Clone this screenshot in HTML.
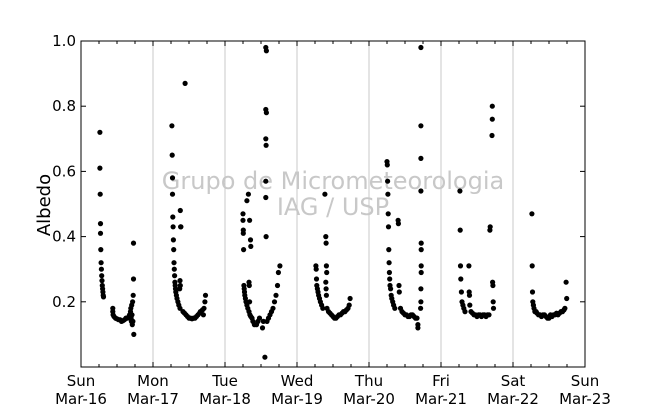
<!DOCTYPE html>
<html><head><meta charset="utf-8"><style>
html,body{margin:0;padding:0;background:#fff;}
svg{display:block;font-family:"DejaVu Sans","Liberation Sans",sans-serif;}
</style></head><body>
<svg id="chart" width="650" height="409" viewBox="0 0 650 409" xmlns="http://www.w3.org/2000/svg"></svg>
<script>
const dayLabels = ["Sun","Mon","Tue","Wed","Thu","Fri","Sat","Sun"];
const dateLabels = ["Mar-16","Mar-17","Mar-18","Mar-19","Mar-20","Mar-21","Mar-22","Mar-23"];
const yTicks = [0.2,0.4,0.6,0.8,1.0];
const yTickLabels = ["0.2","0.4","0.6","0.8","1.0"];

const day0Hours = [6.3,6.3,6.4,6.5,6.5,6.6,6.7,6.8,6.9,7.0,7.1,7.2,7.3,7.4,7.5,10.6,10.6,10.7,11,11.5,12,12.5,13,13.5,14,14.5,15,15.5,16,16.2,16.5,16.6,16.7,16.8,16.9,17.0,17.1,17.2,17.4,17.5,17.5,17.6,17.3];
const day0Albedo = [0.72,0.61,0.53,0.44,0.41,0.36,0.32,0.30,0.28,0.265,0.25,0.24,0.23,0.22,0.215,0.18,0.17,0.16,0.155,0.15,0.148,0.145,0.145,0.14,0.142,0.145,0.15,0.15,0.155,0.16,0.17,0.18,0.15,0.14,0.19,0.16,0.13,0.2,0.22,0.27,0.38,0.10,0.14];

const day1Hours = [6.3,6.4,6.5,6.5,6.6,6.7,6.8,6.9,7.0,7.1,7.2,7.3,7.4,7.5,7.6,7.8,8,8.3,8.6,9,9.1,9.2,9.3,9.0,9.1,8.9,10.7,10,10.5,11,11.5,12,12.5,13,13.5,14,14.5,15,15.5,16,16.5,17,17.3,17.5,16.8,15.8];
const day1Albedo = [0.74,0.65,0.58,0.53,0.46,0.43,0.39,0.36,0.32,0.30,0.28,0.26,0.25,0.24,0.23,0.22,0.21,0.20,0.19,0.18,0.48,0.43,0.43,0.265,0.25,0.24,0.87,0.17,0.165,0.16,0.155,0.15,0.15,0.148,0.15,0.15,0.155,0.16,0.165,0.17,0.175,0.18,0.20,0.22,0.16,0.17];

const day2Hours = [6.0,6.0,6.1,6.1,6.2,6.3,6.4,6.5,6.6,6.8,7,7.3,7.6,8,8.3,8.6,9,9.3,9.8,10.5,11,11.5,13.3,7.3,7.8,8.2,8.5,8.6,8.0,8.1,8.2,13.6,13.8,13.6,13.8,13.6,13.7,13.6,13.6,13.7,14,14.5,15,15.5,16,16.5,17,17.5,17.8,18.3,12.5,12.8];
const day2Albedo = [0.47,0.45,0.42,0.41,0.36,0.25,0.24,0.23,0.22,0.21,0.20,0.19,0.18,0.17,0.16,0.155,0.15,0.14,0.13,0.13,0.14,0.15,0.03,0.51,0.53,0.45,0.39,0.37,0.26,0.25,0.20,0.98,0.97,0.79,0.78,0.70,0.68,0.57,0.52,0.40,0.14,0.15,0.16,0.17,0.18,0.20,0.22,0.25,0.29,0.31,0.12,0.14];

const day3Hours = [6.3,6.4,6.5,6.6,6.8,7,7.2,7.5,7.8,8.2,8.6,9.3,9.6,9.7,9.8,9.9,9.6,9.7,9.8,10,10.5,11,11.5,12,12.5,13,13.5,14,14.5,15,15.5,16,16.5,17,17.4,17.7];
const day3Albedo = [0.31,0.30,0.27,0.25,0.24,0.23,0.22,0.21,0.20,0.19,0.18,0.53,0.40,0.38,0.31,0.29,0.26,0.24,0.22,0.18,0.17,0.165,0.16,0.155,0.15,0.15,0.155,0.16,0.16,0.165,0.17,0.17,0.175,0.18,0.19,0.21];

const day4Hours = [6.0,6.1,6.2,6.3,6.4,6.5,6.6,6.7,6.8,6.9,7,7.2,7.4,7.6,7.9,8.2,8.6,9.7,9.8,10,10.1,10.5,11,11.5,12,12.5,13,13.5,14,14.5,15,15.5,16,16.3,16.3,17.3,17.3,17.3,17.3,17.4,17.4,17.4,17.4,17.3,17.3,17.2];
const day4Albedo = [0.63,0.62,0.57,0.53,0.47,0.43,0.36,0.32,0.29,0.27,0.25,0.24,0.22,0.21,0.20,0.19,0.18,0.45,0.44,0.25,0.23,0.18,0.17,0.165,0.16,0.16,0.155,0.155,0.16,0.16,0.155,0.15,0.15,0.12,0.13,0.98,0.74,0.64,0.54,0.38,0.36,0.31,0.29,0.24,0.20,0.18];

const day5Hours = [6.3,6.4,6.5,6.6,6.8,7,7.3,7.6,8,9.3,9.4,9.5,9.6,10,10.5,11,11.5,12,12.5,13,13.5,14,14.5,15,15.5,16,16.3,16.4,17,17.1,17.1,17.2,17.3,17.4,17.5];
const day5Albedo = [0.54,0.42,0.31,0.27,0.23,0.20,0.19,0.18,0.17,0.31,0.23,0.22,0.19,0.17,0.165,0.16,0.16,0.155,0.16,0.16,0.155,0.16,0.16,0.155,0.16,0.16,0.42,0.43,0.71,0.76,0.80,0.26,0.25,0.20,0.18];

const day6Hours = [6.3,6.4,6.5,6.6,6.8,7,7.3,7.7,8,8.5,9,9.5,10,10.5,11,11.5,12,12.5,13,13.5,14,14.5,15,15.5,16,16.5,17,17.3,17.7,17.9];
const day6Albedo = [0.47,0.31,0.23,0.20,0.19,0.18,0.17,0.17,0.165,0.16,0.16,0.155,0.16,0.16,0.155,0.15,0.15,0.16,0.155,0.16,0.16,0.165,0.16,0.165,0.17,0.17,0.175,0.18,0.26,0.21];

const allHours = [day0Hours,day1Hours,day2Hours,day3Hours,day4Hours,day5Hours,day6Hours];
const allAlbedo = [day0Albedo,day1Albedo,day2Albedo,day3Albedo,day4Albedo,day5Albedo,day6Albedo];

const L=81,R=585,T=41,B=367;
const xDay = d => L + d*(R-L)/7;
const yVal = v => B - v*(B-T);
const NS="http://www.w3.org/2000/svg";
const svg=document.getElementById('chart');
function mk(tag,attrs,parent){const e=document.createElementNS(NS,tag);for(const k in attrs)e.setAttribute(k,attrs[k]);(parent||svg).appendChild(e);return e;}

const grid=mk('g',{});


for(let d=1;d<7;d++){mk('line',{x1:xDay(d),x2:xDay(d),y1:T,y2:B,stroke:'#c8c8c8','stroke-width':1},grid);}

const wm=mk('g',{fill:'#c8c8c8','font-size':'24','text-anchor':'middle'});


mk('text',{x:333,y:189},wm).textContent='Grupo de Micrometeorologia';
mk('text',{x:333,y:215},wm).textContent='IAG / USP';

const pts=mk('g',{fill:'#000'});


for(let d=0;d<7;d++){
  for(let i=0;i<allHours[d].length;i++){
    const c=mk('circle',{cx:xDay(d+allHours[d][i]/24).toFixed(1),cy:yVal(allAlbedo[d][i]).toFixed(1),r:2.6},pts);
    
    
  }
}

const fr=mk('rect',{x:L,y:T,width:R-L,height:B-T,fill:'none',stroke:'#000','stroke-width':1});



const ax=mk('g',{stroke:'#000','stroke-width':1});


for(let d=0;d<=7;d++){
  const x=xDay(d);
  mk('line',{x1:x,x2:x,y1:B,y2:B-5},ax);mk('line',{x1:x,x2:x,y1:T,y2:T+5},ax);
  if(d<7)for(let m=1;m<4;m++){const xm=xDay(d+m/4);mk('line',{x1:xm,x2:xm,y1:B,y2:B-3},ax);mk('line',{x1:xm,x2:xm,y1:T,y2:T+3},ax);}
}
yTicks.forEach(v=>{const y=yVal(v);mk('line',{x1:L,x2:L+5,y1:y,y2:y},ax);mk('line',{x1:R,x2:R-5,y1:y,y2:y},ax);});

const xl=mk('g',{'font-size':'15','text-anchor':'middle',fill:'#000'});


for(let d=0;d<=7;d++){
  const t=mk('text',{x:xDay(d),y:386},xl);t.textContent=dayLabels[d];
  const t2=mk('text',{x:xDay(d),y:404},xl);t2.textContent=dateLabels[d];
}
const yl=mk('g',{'font-size':'15','text-anchor':'end',fill:'#000'});


yTicks.forEach((v,i)=>{const t=mk('text',{x:76,y:yVal(v)+5},yl);t.textContent=yTickLabels[i];});
const yt=mk('text',{x:50,y:205,'font-size':'18','text-anchor':'middle',transform:'rotate(-90 50 205)'});


yt.textContent='Albedo';
</script>
</body></html>
